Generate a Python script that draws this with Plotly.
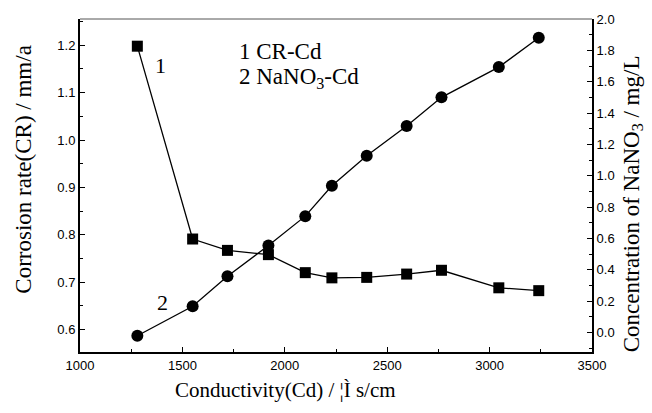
import plotly.graph_objects as go

# Conductivity of Cd solutions (µS/cm)
conductivity = [1280, 1550, 1720, 1920, 2100, 2230, 2400, 2595, 2765, 3045, 3240]
# Curve 1: corrosion rate (mm/a)
corrosion_rate = [1.198, 0.791, 0.767, 0.758, 0.720, 0.709, 0.710, 0.717, 0.725, 0.688, 0.682]
# Curve 2: NaNO3 concentration (mg/L)
nano3_conc = [-0.021, 0.167, 0.359, 0.554, 0.742, 0.936, 1.128, 1.317, 1.500, 1.693, 1.881]

x_ticks = [1000, 1500, 2000, 2500, 3000, 3500]
left_ticks = [0.6, 0.7, 0.8, 0.9, 1.0, 1.1, 1.2]
right_ticks = [0.0, 0.2, 0.4, 0.6, 0.8, 1.0, 1.2, 1.4, 1.6, 1.8, 2.0]

serif = "Liberation Serif, Times New Roman, serif"
sans = "Liberation Sans, Arial, sans-serif"
tick_font = dict(family=sans, size=13, color="black")

W, H = 652, 413
L, R, T, B = 80, 60, 16, 61


def px_x(p):
    # horizontal pixel -> paper fraction
    return (p - L) / (W - L - R)


def px_y(p):
    # vertical pixel (from top) -> paper fraction
    return (H - B - p) / (H - T - B)


fig = go.Figure()
fig.add_trace(go.Scatter(
    x=conductivity, y=corrosion_rate, mode="lines+markers",
    line=dict(color="black", width=1.3),
    marker=dict(symbol="square", size=11, color="black"),
    yaxis="y", showlegend=False))
fig.add_trace(go.Scatter(
    x=conductivity, y=nano3_conc, mode="lines+markers",
    line=dict(color="black", width=1.3),
    marker=dict(symbol="circle", size=12, color="black"),
    yaxis="y2", showlegend=False))

fig.update_layout(
    width=W, height=H,
    margin=dict(l=L, r=R, t=T, b=B),
    paper_bgcolor="white", plot_bgcolor="white",
    xaxis=dict(
        range=[1000, 3500], tickvals=x_ticks, ticktext=[str(v) for v in x_ticks],
        showline=True, linecolor="black", linewidth=2,
        ticks="inside", ticklen=5, tickwidth=1.2, tickcolor="black",
        minor=dict(tick0=1000, dtick=250, ticks="inside", ticklen=3,
                   tickwidth=1, tickcolor="black"),
        showgrid=False, zeroline=False, tickfont=tick_font,
    ),
    yaxis=dict(
        range=[0.5525, 1.2554], tickvals=left_ticks,
        ticktext=[f"{v:.1f}" for v in left_ticks],
        showline=True, linecolor="black", linewidth=2,
        ticks="inside", ticklen=5, tickwidth=1.2, tickcolor="black",
        minor=dict(tick0=0.55, dtick=0.05, ticks="inside", ticklen=3,
                   tickwidth=1, tickcolor="black"),
        showgrid=False, zeroline=False, tickfont=tick_font,
    ),
    yaxis2=dict(
        range=[-0.125, 2.0], overlaying="y", side="right",
        tickvals=right_ticks, ticktext=[f"{v:.1f}" for v in right_ticks],
        showline=True, linecolor="black", linewidth=2,
        ticks="inside", ticklen=5, tickwidth=1.2, tickcolor="black",
        minor=dict(tick0=0.0, dtick=0.1, ticks="inside", ticklen=3,
                   tickwidth=1, tickcolor="black"),
        showgrid=False, zeroline=False, tickfont=tick_font,
    ),
    shapes=[dict(type="line", xref="paper", yref="paper", x0=0, x1=1, y0=1, y1=1,
                 line=dict(color="#555555", width=1))],
    annotations=[
        # axis titles
        dict(text="Conductivity(Cd) / \u00a6\u00cc s/cm",
             x=px_x(285), y=px_y(390), xref="paper", yref="paper",
             xanchor="center", yanchor="middle",
             showarrow=False, font=dict(family=serif, size=21, color="black")),
        dict(text="Corrosion rate(CR) / mm/a", textangle=-90,
             x=px_x(24), y=px_y(168), xref="paper", yref="paper",
             xanchor="center", yanchor="middle",
             showarrow=False, font=dict(family=serif, size=23, color="black")),
        dict(text="Concentration of NaNO<sub>3</sub> / mg/L", textangle=-90,
             x=px_x(633), y=px_y(203), xref="paper", yref="paper",
             xanchor="center", yanchor="middle",
             showarrow=False, font=dict(family=serif, size=23, color="black")),
        # curve key and curve numbers
        dict(text="1 CR-Cd", x=1765, y=1.186, xref="x", yref="y", xanchor="left",
             showarrow=False, font=dict(family=serif, size=23, color="black")),
        dict(text="2 NaNO<sub>3</sub>-Cd", x=1765, y=1.13, xref="x", yref="y",
             xanchor="left", showarrow=False,
             font=dict(family=serif, size=23, color="black")),
        dict(text="1", x=1395, y=1.158, xref="x", yref="y", showarrow=False,
             font=dict(family=serif, size=22, color="black")),
        dict(text="2", x=1405, y=0.658, xref="x", yref="y", showarrow=False,
             font=dict(family=serif, size=22, color="black")),
    ],
)

fig.write_html("out.html")
